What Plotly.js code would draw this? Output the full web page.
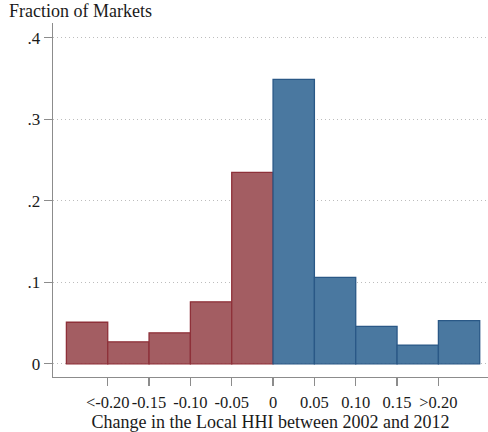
<!DOCTYPE html>
<html>
<head>
<meta charset="utf-8">
<script src="https://cdn.plot.ly/plotly-3.0.1.min.js"></script>
<style>html,body{margin:0;padding:0;background:#fff;}#chart{width:488px;height:432px;}</style>
</head>
<body>
<div id="chart"></div>
<script>
// Bin centers (change in local HHI), width 0.05
const negBinCenters = [-0.225, -0.175, -0.125, -0.075, -0.025];
const negFractions = [0.051, 0.027, 0.038, 0.076, 0.235];
const posBinCenters = [0.025, 0.075, 0.125, 0.175, 0.225];
const posFractions = [0.349, 0.106, 0.046, 0.023, 0.053];
const binWidth = 0.05;

const xTickVals = [-0.20, -0.15, -0.10, -0.05, 0, 0.05, 0.10, 0.15, 0.20];
const xTickText = ["<-0.20", "-0.15", "-0.10", "-0.05", "0", "0.05", "0.10", "0.15", ">0.20"];
const yTickVals = [0, 0.1, 0.2, 0.3, 0.4];
const yTickText = ["0", ".1", ".2", ".3", ".4"];

const FONT = "Liberation Serif, serif";
const AXIS = "#8c8c8c";
const TXT = "#1a1a1a";

const traces = [
  {
    type: "bar", x: negBinCenters, y: negFractions,
    width: negBinCenters.map(() => binWidth),
    marker: {color: "#a35d62", line: {color: "#8e3039", width: 1.3}},
    hoverinfo: "x+y"
  },
  {
    type: "bar", x: posBinCenters, y: posFractions,
    width: posBinCenters.map(() => binWidth),
    marker: {color: "#4a78a0", line: {color: "#2a5886", width: 1.3}},
    hoverinfo: "x+y"
  }
];

const layout = {
  width: 488, height: 432,
  margin: {l: 53, r: 0, t: 23, b: 55},
  paper_bgcolor: "#fff", plot_bgcolor: "#fff",
  showlegend: false,
  bargap: 0,
  font: {family: FONT, size: 17, color: TXT},
  xaxis: {
    range: [-0.2662, 0.26],
    tickvals: xTickVals, ticktext: xTickText, tickangle: 0,
    ticks: "outside", ticklen: 8, tickwidth: 1.3, tickcolor: AXIS,
    showline: true, linecolor: AXIS, linewidth: 1.3,
    showgrid: false, zeroline: false,
    ticklabelstandoff: 2,
    tickfont: {family: FONT, size: 16.5, color: TXT},
    title: {text: "Change in the Local HHI between 2002 and 2012", font: {family: FONT, size: 18, color: TXT}, standoff: 5}
  },
  yaxis: {
    range: [-0.0162, 0.4182],
    tickvals: yTickVals, ticktext: yTickText,
    ticks: "outside", ticklen: 8, tickwidth: 1.3, tickcolor: AXIS,
    showline: true, linecolor: AXIS, linewidth: 1.3,
    showgrid: true, gridcolor: "#bdbdbd", gridwidth: 1, griddash: "1px,3px",
    zeroline: false,
    tickfont: {family: FONT, size: 17, color: TXT}
  },
  annotations: [{
    text: "Fraction of Markets", xref: "paper", yref: "paper",
    x: 0, y: 1, xshift: -46, yshift: 12, xanchor: "left", yanchor: "middle",
    showarrow: false, font: {family: FONT, size: 18, color: TXT}
  }]
};

Plotly.newPlot("chart", traces, layout, {displayModeBar: false, staticPlot: true});
</script>
</body>
</html>
